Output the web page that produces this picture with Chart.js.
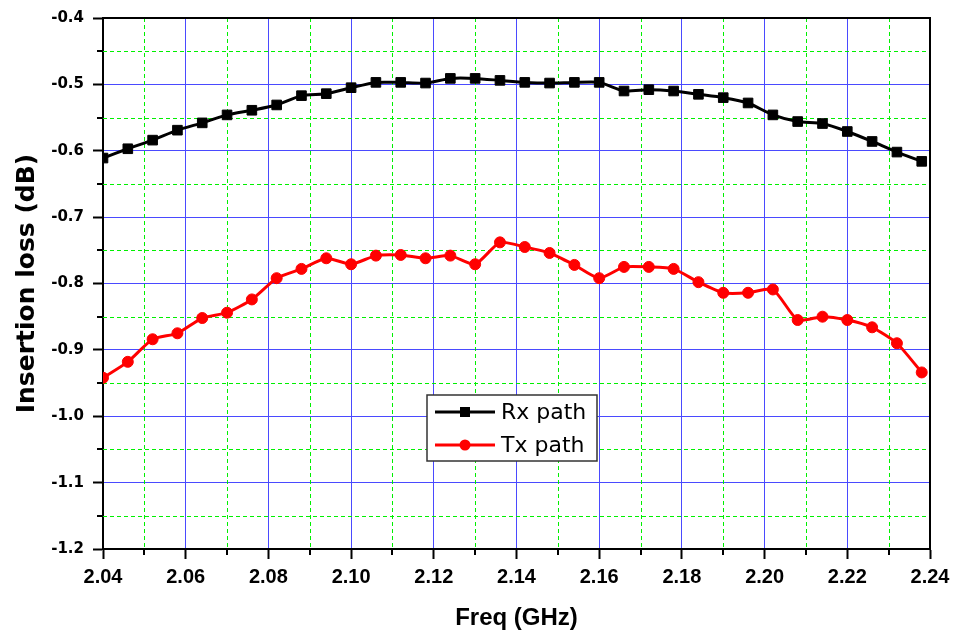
<!DOCTYPE html>
<html>
<head>
<meta charset="utf-8">
<script src="https://cdn.jsdelivr.net/npm/chart.js@4.4.1/dist/chart.umd.min.js"></script>
<style>
  html, body { margin: 0; padding: 0; background: #fff; }
  #wrap { width: 957px; height: 635px; }
</style>
</head>
<body>
<div id="wrap"><canvas id="lossChart" width="957" height="635"></canvas></div>
<script>
// Frequency points (GHz)
const freq = [2.040, 2.046, 2.052, 2.058, 2.064, 2.070, 2.076, 2.082, 2.088, 2.094,
  2.100, 2.106, 2.112, 2.118, 2.124, 2.130, 2.136, 2.142, 2.148, 2.154,
  2.160, 2.166, 2.172, 2.178, 2.184, 2.190, 2.196, 2.202, 2.208, 2.214,
  2.220, 2.226, 2.232, 2.238];

// Insertion loss (dB)
const rxLoss = [-0.611, -0.597, -0.584, -0.569, -0.558, -0.546, -0.539, -0.531, -0.517, -0.514,
  -0.505, -0.497, -0.497, -0.498, -0.491, -0.491, -0.494, -0.497, -0.498, -0.497,
  -0.497, -0.510, -0.508, -0.510, -0.515, -0.520, -0.528, -0.546, -0.556, -0.559,
  -0.571, -0.586, -0.602, -0.616];
const txLoss = [-0.942, -0.918, -0.884, -0.875, -0.852, -0.844, -0.824, -0.792, -0.778, -0.762,
  -0.771, -0.758, -0.757, -0.762, -0.758, -0.771, -0.738, -0.745, -0.754, -0.772,
  -0.792, -0.775, -0.775, -0.778, -0.798, -0.814, -0.814, -0.809, -0.855, -0.850,
  -0.855, -0.866, -0.890, -0.934];

const seriesNames = ["Rx path", "Tx path"];

// axis ranges / tick steps
const xRange = [2.04, 2.24];
const yRange = [-1.2, -0.4];
const xStep = 0.02;
const yStep = 0.1;

function toPoints(xs, ys) {
  return xs.map((v, i) => ({ x: v, y: ys[i] }));
}

// midpoints between major ticks -> minor grid / minor tick marks
function minorValues(ticks) {
  const out = [];
  for (let i = 0; i < ticks.length - 1; i++) {
    out.push((ticks[i].value + ticks[i + 1].value) / 2);
  }
  return out;
}

function strokeLine(ctx, x1, y1, x2, y2) {
  ctx.beginPath();
  ctx.moveTo(x1, y1);
  ctx.lineTo(x2, y2);
  ctx.stroke();
}

// green dashed minor grid, minor ticks and the top/right frame
const gridExtras = {
  id: "gridExtras",
  beforeDatasetsDraw(chart) {
    const { ctx, chartArea: a, scales: { x, y } } = chart;
    const xMinor = minorValues(x.ticks);
    const yMinor = minorValues(y.ticks);
    ctx.save();
    ctx.strokeStyle = "#00f000";
    ctx.lineWidth = 1;
    ctx.setLineDash([4, 3]);
    xMinor.forEach(v => {
      const px = Math.round(x.getPixelForValue(v)) + 0.5;
      strokeLine(ctx, px, a.top, px, a.bottom);
    });
    yMinor.forEach(v => {
      const py = Math.round(y.getPixelForValue(v)) + 0.5;
      strokeLine(ctx, a.left, py, a.right, py);
    });
    ctx.setLineDash([]);
    ctx.strokeStyle = "#000";
    ctx.lineWidth = 2;
    xMinor.forEach(v => {
      const px = Math.round(x.getPixelForValue(v));
      strokeLine(ctx, px, a.bottom, px, a.bottom + 6);
    });
    yMinor.forEach(v => {
      const py = Math.round(y.getPixelForValue(v));
      strokeLine(ctx, a.left - 6, py, a.left, py);
    });
    // frame
    strokeLine(ctx, a.left, a.top, a.right + 1, a.top);
    strokeLine(ctx, a.right, a.top, a.right, a.bottom);
    ctx.restore();
  }
};

// boxed legend inside the plot
const boxLegend = {
  id: "boxLegend",
  afterDraw(chart) {
    const ctx = chart.ctx;
    const bx = 427, by = 395, bw = 170, bh = 66;
    ctx.save();
    ctx.fillStyle = "#fff";
    ctx.fillRect(bx, by, bw, bh);
    ctx.strokeStyle = "#333";
    ctx.lineWidth = 1.5;
    ctx.strokeRect(bx, by, bw, bh);
    ctx.font = "22px 'DejaVu Sans'";
    ctx.textBaseline = "middle";
    chart.data.datasets.forEach((ds, i) => {
      const cy = by + 17 + i * 33;
      ctx.strokeStyle = ds.borderColor;
      ctx.lineWidth = 3;
      strokeLine(ctx, 435, cy, 495, cy);
      ctx.fillStyle = ds.pointBackgroundColor;
      if (ds.pointStyle === "rect") {
        ctx.fillRect(460, cy - 5, 10, 10);
      } else {
        ctx.beginPath();
        ctx.arc(465, cy, 5.5, 0, Math.PI * 2);
        ctx.fill();
      }
      ctx.fillStyle = "#000";
      ctx.fillText(ds.label, 501, cy + 1);
    });
    ctx.restore();
  }
};

const ctx = document.getElementById("lossChart").getContext("2d");
new Chart(ctx, {
  type: "line",
  data: {
    datasets: [
      {
        label: seriesNames[0],
        data: toPoints(freq, rxLoss),
        borderColor: "#000",
        backgroundColor: "#000",
        pointBackgroundColor: "#000",
        pointBorderColor: "#000",
        pointStyle: "rect",
        pointRadius: 6.8,
        pointBorderWidth: 1,
        borderWidth: 3,
        tension: 0.2,
        fill: false
      },
      {
        label: seriesNames[1],
        data: toPoints(freq, txLoss),
        borderColor: "#ff0000",
        backgroundColor: "#ff0000",
        pointBackgroundColor: "#ff0000",
        pointBorderColor: "#ff0000",
        pointStyle: "circle",
        pointRadius: 5.5,
        pointBorderWidth: 1,
        borderWidth: 3,
        tension: 0.2,
        fill: false
      }
    ]
  },
  options: {
    responsive: false,
    animation: false,
    devicePixelRatio: 1,
    layout: { padding: { top: 16, right: 27, left: 0, bottom: 0 } },
    plugins: {
      legend: { display: false },
      tooltip: { enabled: false }
    },
    scales: {
      x: {
        type: "linear",
        min: xRange[0],
        max: xRange[1],
        afterFit: scale => { scale.height = 86; },
        ticks: {
          stepSize: xStep,
          maxRotation: 0,
          autoSkip: false,
          padding: 6,
          color: "#000",
          font: { family: "'Liberation Sans', Arial", size: 20, weight: "bold" },
          callback: v => v.toFixed(2)
        },
        grid: { color: "#4a4aff", lineWidth: 1, tickLength: 10, tickColor: "#000", tickWidth: 2 },
        border: { color: "#000", width: 2 },
        title: {
          display: true,
          text: "Freq (GHz)",
          color: "#000",
          padding: { top: 0, bottom: 2 },
          font: { family: "'Liberation Sans', Arial", size: 24, weight: "bold" }
        }
      },
      y: {
        min: yRange[0],
        max: yRange[1],
        afterFit: scale => { scale.width = 103; },
        ticks: {
          stepSize: yStep,
          padding: 9,
          color: "#000",
          font: { family: "'DejaVu Sans'", size: 15, weight: "bold" },
          callback: v => v.toFixed(1)
        },
        grid: { color: "#4a4aff", lineWidth: 1, tickLength: 10, tickColor: "#000", tickWidth: 2 },
        border: { color: "#000", width: 2 },
        title: {
          display: true,
          text: "Insertion loss (dB)",
          color: "#000",
          padding: { top: 12, bottom: 0 },
          font: { family: "'DejaVu Sans'", size: 25, weight: "bold" }
        }
      }
    }
  },
  plugins: [gridExtras, boxLegend]
});
</script>
</body>
</html>
